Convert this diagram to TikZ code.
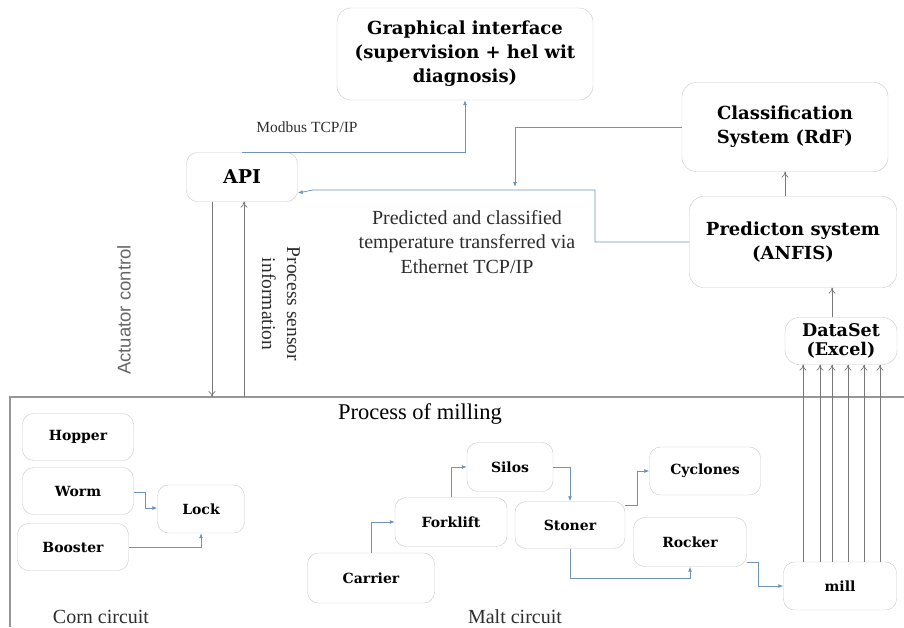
\documentclass[tikz,border=0pt]{standalone}
\usepackage{fontspec}
\setmainfont{Liberation Serif}
\setsansfont{Liberation Sans}
\newfontfamily\boxfont{DejaVu Serif}
\usetikzlibrary{positioning,arrows.meta}
\definecolor{linkblue}{RGB}{110,148,186}
\definecolor{boxgray}{RGB}{200,200,200}
\definecolor{framegray}{RGB}{150,150,150}
\definecolor{textgray}{RGB}{45,45,45}

\begin{document}
\begin{tikzpicture}[x=1pt,y=-1pt]
	\tikzstyle{bigbox} = [draw=boxgray, rounded corners=14pt, align=center, inner sep=0pt, text=black, font=\boxfont\bfseries\fontsize{18}{24}\selectfont]
	\tikzstyle{smallbox} = [draw=boxgray, rounded corners=11pt, align=center, inner sep=0pt, text=black, minimum width=111pt, minimum height=47pt, font=\boxfont\bfseries\fontsize{14}{16}\selectfont]
	\tikzstyle{bluelink} = [draw=linkblue, line width=0.8pt, -{Latex[length=5pt,width=4pt]}]
	\tikzstyle{graylink} = [draw=framegray!80!black, line width=0.7pt, -{To[length=6pt,width=7pt]}]
	\tikzstyle{label} = [text=textgray, align=center, inner sep=0pt]
	\useasboundingbox (0,0) rectangle (904,627);
	% supervision side
	\node[bigbox, minimum width=256pt, minimum height=92pt] (GI) at (465,54) {Graphical interface\\(supervision + hel wit\\diagnosis)};
	\node[bigbox, minimum width=206pt, minimum height=89pt] (RdF) at (785,127) {Classification\\System (RdF)};
	\node[bigbox, minimum width=207pt, minimum height=91pt] (ANFIS) at (793,242) {Predicton system\\(ANFIS)};
	\node[bigbox, minimum width=112pt, minimum height=47pt, font=\boxfont\bfseries\fontsize{17.5}{19}\selectfont] (DS) at (841,341) {DataSet\\(Excel)};
	\node[smallbox, minimum width=111pt, minimum height=49pt, font=\boxfont\bfseries\fontsize{19}{20}\selectfont] (API) at (242,177) {API};
	\node[label, font=\fontsize{15.5}{18}\selectfont] (modbus) at (307,127) {Modbus TCP/IP};
	\node[label, font=\fontsize{20}{24.5}\selectfont] (eth) at (467,242) {Predicted and classified\\temperature transferred via\\Ethernet TCP/IP};
	\node[label, rotate=90, text=black!60, font=\sffamily\fontsize{18.5}{22}\selectfont] (act) at (124,310) {Actuator control};
	\node[label, rotate=-90, font=\fontsize{19.5}{25}\selectfont] (sens) at (281,304) {Process sensor\\information};
	% process frame
	\coordinate (fNW) at (10,397);
	\coordinate (fNE) at (904,397);
	\coordinate (fSW) at (10,627);
	\draw[framegray, line width=1.4pt] (fSW) -- (fNW) -- (fNE);
	\node[label, font=\fontsize{22.5}{24}\selectfont, text=black] (mill title) at (420,414) {Process of milling};
	% corn circuit
	\node[smallbox] (hopper) at (78,437) {Hopper};
	\node[smallbox] (worm) at (78,491) {Worm};
	\node[smallbox] (booster) at (73,547) {Booster};
	\node[smallbox, minimum width=87pt, minimum height=48pt] (lock) at (201,509) {Lock};
	\node[label, font=\fontsize{20}{22}\selectfont] (corn) at (101,617) {Corn circuit};
	% malt circuit
	\node[smallbox, minimum width=86pt, minimum height=49pt] (silos) at (510,467) {Silos};
	\node[smallbox, minimum width=112pt, minimum height=49pt] (forklift) at (451,522) {Forklift};
	\node[smallbox, minimum width=110pt] (stoner) at (570,525) {Stoner};
	\node[smallbox, minimum width=127pt, minimum height=50pt] (carrier) at (371,578) {Carrier};
	\node[smallbox, minimum height=48pt] (cyclones) at (705,471) {Cyclones};
	\node[smallbox, minimum width=113pt, minimum height=49pt] (rocker) at (690,542) {Rocker};
	\node[smallbox, minimum width=113pt, minimum height=48pt] (mill) at (840,586) {mill};
	\node[label, font=\fontsize{20}{22}\selectfont] (malt) at (515,617) {Malt circuit};
	% links between systems
	\draw[bluelink] (API.north) -- (GI.south |- API.north) -- (GI.south);
	\coordinate (join) at (515,187);
	\draw[bluelink] (RdF.west) -| (join);
	\draw[bluelink] (ANFIS.west) -| (595,190) -- (313,190) -- ([yshift=-16pt]API.east);
	\draw[graylink] (ANFIS.north -| 785,0) -- (RdF.south);
	\draw[graylink] (DS.north -| 832,0) -- (ANFIS.south -| 832,0);
	\foreach \x in {803,820,832,848,864,880}
	{
		\draw[graylink] (mill.north -| \x,0) -- (DS.south -| \x,0);
	}
	\draw[graylink] (API.south -| 212,0) -- (fNW -| 212,0);
	\draw[graylink] (fNW -| 244,0) -- (API.south -| 244,0);
	% corn links
	\draw[bluelink] ([yshift=-1pt]worm.east) -- ++(12,0) |- ([yshift=1pt]lock.west);
	\draw[bluelink] (booster.east) -| (lock.south);
	% malt links
	\draw[bluelink] (carrier.north) |- (forklift.west);
	\draw[bluelink] (forklift.north) |- (silos.west);
	\draw[bluelink] (silos.east) -| (stoner.north);
	\draw[bluelink] ([yshift=20pt]stoner.east) -- ++(12,0) |- (cyclones.west);
	\draw[bluelink] (stoner.south) |- (620,578) -| (rocker.south);
	\draw[bluelink] ([yshift=-20pt]rocker.east) -- ++(12,0) |- (mill.west);
\end{tikzpicture}
\end{document}
